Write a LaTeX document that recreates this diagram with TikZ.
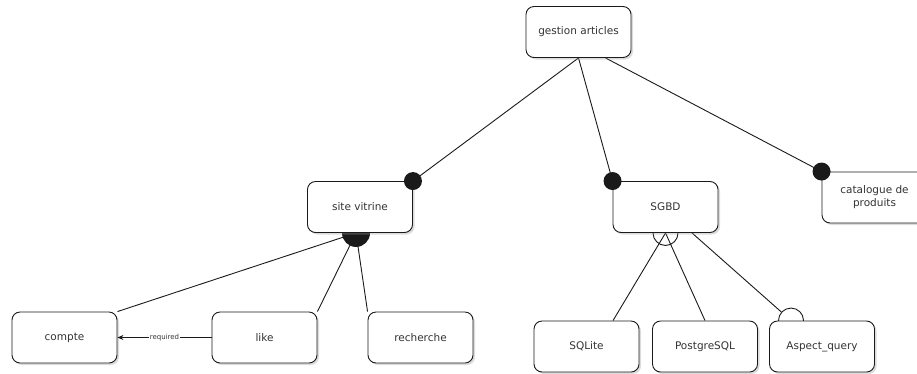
\documentclass[tikz,border=0pt]{standalone}
\usepackage{fontspec}
\setmainfont{DejaVu Sans}
\usepackage{tikz}
\usetikzlibrary{arrows.meta,positioning,shadows,backgrounds}
\definecolor{boxtext}{HTML}{333333}
\definecolor{edgeline}{HTML}{1A1A1A}
\definecolor{shadowgray}{HTML}{9A9A9A}

\begin{document}
\begin{tikzpicture}[x=1pt, y=-1pt,
    featurebox/.style={draw=edgeline, fill=white, rounded corners=8pt, line width=0.9pt,
        minimum width=105pt, minimum height=51pt, text=boxtext, align=center,
        font=\fontsize{10.5}{13}\selectfont,
        drop shadow={shadow xshift=2pt, shadow yshift=-2pt, opacity=0.35, fill=shadowgray}},
    featureline/.style={draw=edgeline, line width=0.9pt},
    linklabel/.style={fill=white, inner sep=1pt, text=boxtext, font=\fontsize{7}{8}\selectfont}]
    \useasboundingbox (0,0) rectangle (917,373);

    % Root
    \node[featurebox] (gestion) at (578.5,32) {gestion articles};

    % Level 1
    \node[featurebox] (site) at (360,207) {site vitrine};
    \node[featurebox] (sgbd) at (665.5,207) {SGBD};
    \node[featurebox] (catalogue) at (874.5,197.5) {catalogue de\\produits};

    % Level 2
    \node[featurebox] (compte) at (64.5,337.5) {compte};
    \node[featurebox] (like) at (264.5,337.5) {like};
    \node[featurebox] (recherche) at (420.5,337.5) {recherche};
    \node[featurebox] (sqlite) at (586.5,346.5) {SQLite};
    \node[featurebox] (postgres) at (705,346.5) {PostgreSQL};
    \node[featurebox] (aspect) at (822,346.5) {Aspect\_query};

    % Join points
    \coordinate (sitejoin) at ([xshift=-4pt]site.south);
    \coordinate (sgbdjoin) at (sgbd.south);
    \coordinate (aspectjoin) at ([xshift=-31pt]aspect.north);

    % Connectors (behind the boxes)
    \begin{scope}[on background layer]
        \draw[featureline] (gestion.south) -- (site.north east);
        \draw[featureline] (gestion.south) -- (sgbd.north west);
        \draw[featureline] ([xshift=27pt]gestion.south) -- (catalogue.north west);

        \draw[featureline] (sitejoin) -- (compte.north east);
        \draw[featureline] (sitejoin) -- (like.north east);
        \draw[featureline] (sitejoin) -- (recherche.north west);
        \fill[edgeline] (sitejoin) circle (14pt);

        \draw[featureline] (sgbdjoin) -- ([xshift=26.5pt]sqlite.north);
        \draw[featureline] (sgbdjoin) -- (postgres.north);
        \draw[featureline] (sgbdjoin) circle (12.5pt);

        \draw[featureline, shorten >=12.5pt] ([xshift=26.5pt]sgbd.south) -- (aspectjoin);
        \draw[featureline, fill=white] (aspectjoin) circle (12.5pt);
    \end{scope}

    % Mandatory markers
    \fill[edgeline] (site.north east) circle (9pt);
    \fill[edgeline] (sgbd.north west) circle (9pt);
    \fill[edgeline] (catalogue.north west) circle (9pt);

    % Requires link
    \draw[featureline, -{Stealth[length=6pt, width=5pt]}] (like.west) -- node[linklabel] {required} (compte.east);
\end{tikzpicture}
\end{document}
